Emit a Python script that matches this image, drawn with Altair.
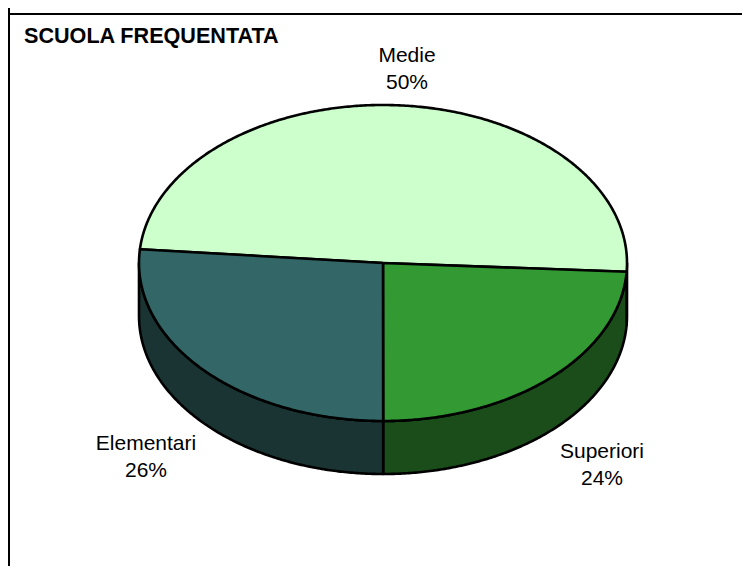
import numpy as np
import pandas as pd
import altair as alt

# data
categories = ["Medie", "Superiori", "Elementari"]
shares = [49.5, 24.1, 26.4]
pct_labels = ["50%", "24%", "26%"]
title_text = "SCUOLA FREQUENTATA"

# styles / geometry
top_colors = ["#CCFFCC", "#339933", "#336666"]
side_colors = ["#194D19", "#1A4D1A", "#1A3333"]
START = 275.0
CX, CY, RX, RY, DEPTH = 383.0, 263.0, 244.0, 158.0, 53.0
W, H = 734, 558
label_pos = {"Medie": (407, 56), "Superiori": (602, 452), "Elementari": (146, 444)}

x_scale = alt.Scale(domain=[8, 8 + W], range=[0, W], nice=False, zero=False)
y_scale = alt.Scale(domain=[8, 8 + H], range=[0, H], nice=False, zero=False)
X = alt.X("x:Q", scale=x_scale, axis=None)
Y = alt.Y("y:Q", scale=y_scale, axis=None)


def px(t):
    return CX + RX * np.sin(np.radians(t))


def py(t, d=0.0):
    return CY - RY * np.cos(np.radians(t)) + d


def arc(a, b):
    return np.linspace(a, b, max(int(abs(b - a) * 2), 2))


def poly(xs, ys):
    df = pd.DataFrame({"x": xs, "y": ys})
    df["i"] = range(len(df))
    return df


def shape(df, fill):
    return (
        alt.Chart(df)
        .mark_line(fill=fill, stroke="black", strokeWidth=2.6, strokeJoin="round", clip=False)
        .encode(x=X, y=Y, order="i:Q")
    )


angles = np.cumsum([0] + [s / sum(shares) * 360 for s in shares]) + START
bounds = list(zip(angles[:-1], angles[1:]))

walls, tops = [], []
for (a, b), top, side in zip(bounds, top_colors, side_colors):
    # visible wall: front half of the rim (90..270 degrees, modulo a turn)
    for shift in (0, -360):
        lo, hi = max(a + shift, 90), min(b + shift, 270)
        if hi > lo:
            t = arc(lo, hi)
            xs = np.concatenate([px(t), px(t[::-1]), px(t[:1])])
            ys = np.concatenate([py(t), py(t[::-1], DEPTH), py(t[:1])])
            walls.append(shape(poly(xs, ys), side))
    t = arc(a, b)
    xs = np.concatenate([[CX], px(t), [CX]])
    ys = np.concatenate([[CY], py(t), [CY]])
    tops.append(shape(poly(xs, ys), top))

labels = pd.DataFrame(
    {
        "x": [label_pos[c][0] for c in categories],
        "y": [label_pos[c][1] for c in categories],
        "t": [f"{c}\n{p}" for c, p in zip(categories, pct_labels)],
    }
)
text = (
    alt.Chart(labels)
    .mark_text(font="Liberation Sans", fontSize=21, lineBreak="\n", lineHeight=27,
               align="center", baseline="middle", color="black")
    .encode(x=X, y=Y, text="t:N")
)

title = (
    alt.Chart(pd.DataFrame({"x": [24], "y": [43], "t": [title_text]}))
    .mark_text(font="Liberation Sans", fontSize=21.6, fontWeight="bold", align="left",
               baseline="alphabetic", color="black")
    .encode(x=X, y=Y, text="t:N")
)

frame_top = alt.Chart(pd.DataFrame({"y": [14]})).mark_rule(color="black", strokeWidth=2).encode(y=Y)
frame_left = alt.Chart(pd.DataFrame({"x": [9]})).mark_rule(color="black", strokeWidth=2).encode(x=X)

chart = (
    alt.layer(frame_top, frame_left, *walls, *tops, text, title)
    .properties(width=W, height=H, padding=0, autosize=alt.AutoSizeParams(type="none"))
    .configure_view(stroke=None)
)
chart.save("out.html", embed_options={"renderer": "svg", "actions": False})
